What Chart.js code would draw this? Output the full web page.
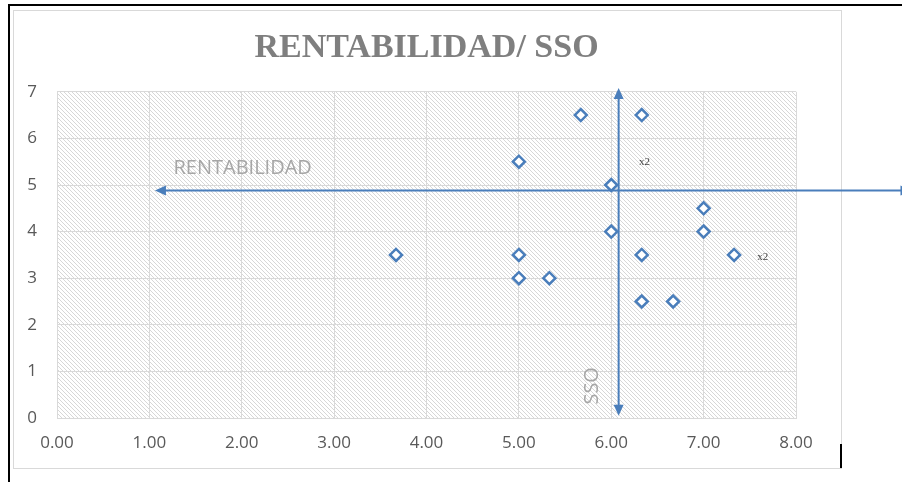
<!DOCTYPE html>
<html>
<head>
<meta charset="utf-8">
<script src="https://cdn.jsdelivr.net/npm/chart.js@4"></script>
<style>
  html, body { margin: 0; padding: 0; background: #fff; }
  #wrap { width: 902px; height: 482px; }
</style>
</head>
<body>
<div id="wrap"><canvas id="chart" width="902" height="482"></canvas></div>
<script>
// data (x = SSO, y = RENTABILIDAD)
const sso          = [5.67, 6.33, 5.00, 6.00, 7.00, 6.00, 7.00, 3.67, 5.00, 6.33, 7.33, 5.00, 5.33, 6.33, 6.67];
const rentabilidad = [6.5,  6.5,  5.5,  5.0,  4.5,  4.0,  4.0,  3.5,  3.5,  3.5,  3.5,  3.0,  3.0,  2.5,  2.5];

// "x2" notes next to repeated points
const noteX = [6.36, 7.64];
const noteY = [5.50, 3.45];
const noteText = ['x2', 'x2'];

// quadrant arrows (data units)
const hArrowX = [1.06, 9.25];
const hArrowY = 4.88;
const vArrowX = 6.08;
const vArrowY = [0.05, 7.08];

// arrow captions
const captionText = ['RENTABILIDAD', 'SSO'];
const captionX = [2.01, 5.79];
const captionY = [5.35, 0.69];

const xTicks = [0, 1, 2, 3, 4, 5, 6, 7, 8];
const yTicks = [0, 1, 2, 3, 4, 5, 6, 7];

const blue = '#4a7ebb';

function hatchPattern(ctx) {
  const c = document.createElement('canvas');
  c.width = c.height = 4;
  const g = c.getContext('2d');
  g.strokeStyle = '#d7d7d7';
  g.lineWidth = 1;
  g.beginPath();
  for (let k = -1; k <= 1; k++) {
    g.moveTo(0, 4 * k);
    g.lineTo(4, 4 + 4 * k);
  }
  g.stroke();
  return ctx.createPattern(c, 'repeat');
}

function arrowHead(ctx, x, y, ang) {
  const len = 11, half = 5;
  ctx.save();
  ctx.translate(x, y);
  ctx.rotate(ang);
  ctx.beginPath();
  ctx.moveTo(0, 0);
  ctx.lineTo(-len, -half);
  ctx.lineTo(-len, half);
  ctx.closePath();
  ctx.fill();
  ctx.restore();
}

const decor = {
  id: 'decor',
  beforeDraw(chart) {
    const { ctx, chartArea: a } = chart;
    ctx.save();
    // hatched plot area
    ctx.fillStyle = hatchPattern(ctx);
    ctx.fillRect(a.left, a.top, a.right - a.left, a.bottom - a.top);
    // chart frame
    ctx.strokeStyle = '#d9d9d9';
    ctx.lineWidth = 1;
    ctx.strokeRect(13.5, 10.5, 828, 458);
    // black outer lines
    ctx.strokeStyle = '#000';
    ctx.lineWidth = 2;
    ctx.beginPath();
    ctx.moveTo(8, 5); ctx.lineTo(902, 5);
    ctx.moveTo(9, 4); ctx.lineTo(9, 482);
    ctx.moveTo(841, 444); ctx.lineTo(841, 468);
    ctx.stroke();
    ctx.restore();
  },
  beforeDatasetsDraw(chart) {
    const { ctx, scales: { x, y } } = chart;
    ctx.save();
    ctx.strokeStyle = blue;
    ctx.fillStyle = blue;
    ctx.lineWidth = 2;
    // horizontal arrow
    const hy = y.getPixelForValue(hArrowY);
    const hx0 = x.getPixelForValue(hArrowX[0]), hx1 = x.getPixelForValue(hArrowX[1]);
    ctx.beginPath(); ctx.moveTo(hx0 + 6, hy); ctx.lineTo(hx1 - 6, hy); ctx.stroke();
    arrowHead(ctx, hx0, hy, Math.PI);
    arrowHead(ctx, hx1, hy, 0);
    // vertical arrow
    const vx = x.getPixelForValue(vArrowX);
    const vy0 = y.getPixelForValue(vArrowY[0]), vy1 = y.getPixelForValue(vArrowY[1]);
    ctx.beginPath(); ctx.moveTo(vx, vy0 - 6); ctx.lineTo(vx, vy1 + 6); ctx.stroke();
    arrowHead(ctx, vx, vy0, Math.PI / 2);
    arrowHead(ctx, vx, vy1, -Math.PI / 2);

    // captions
    ctx.fillStyle = '#a6a6a6';
    ctx.font = '20px "Open Sans"';
    ctx.textAlign = 'center';
    ctx.textBaseline = 'middle';
    ctx.fillText(captionText[0], x.getPixelForValue(captionX[0]), y.getPixelForValue(captionY[0]));
    ctx.save();
    ctx.translate(x.getPixelForValue(captionX[1]), y.getPixelForValue(captionY[1]));
    ctx.rotate(-Math.PI / 2);
    ctx.fillText(captionText[1], 0, 0);
    ctx.restore();

    // x2 notes
    ctx.fillStyle = '#404040';
    ctx.font = '11px "Liberation Serif"';
    noteText.forEach((t, i) => {
      ctx.fillText(t, x.getPixelForValue(noteX[i]), y.getPixelForValue(noteY[i]));
    });
    ctx.restore();
  }
};

new Chart(document.getElementById('chart'), {
  type: 'scatter',
  data: {
    datasets: [{
      data: sso.map((v, i) => ({ x: v, y: rentabilidad[i] })),
      pointStyle: 'rectRot',
      radius: 6,
      hoverRadius: 6,
      borderWidth: 2.5,
      borderColor: blue,
      backgroundColor: '#fff'
    }]
  },
  options: {
    responsive: false,
    animation: false,
    events: [],
    layout: { padding: { top: 0, left: 0, right: 106, bottom: 0 } },
    plugins: {
      legend: { display: false },
      tooltip: { enabled: false },
      title: {
        display: true,
        fullSize: false,
        text: 'RENTABILIDAD/ SSO',
        color: '#7f7f7f',
        font: { family: '"Liberation Serif"', size: 34, weight: 'bold', lineHeight: 1.2 },
        padding: { top: 28, bottom: 23 }
      }
    },
    scales: {
      x: {
        type: 'linear',
        min: xTicks[0],
        max: xTicks[xTicks.length - 1],
        afterFit: s => { s.height = 64; },
        afterBuildTicks: s => { s.ticks = xTicks.map(v => ({ value: v })); },
        ticks: {
          padding: 15,
          color: '#595959',
          font: { family: '"Open Sans"', size: 17 },
          callback: v => Number(v).toFixed(2)
        },
        grid: { color: '#d9d9d9', drawTicks: false },
        border: { color: '#d9d9d9' }
      },
      y: {
        type: 'linear',
        min: yTicks[0],
        max: yTicks[yTicks.length - 1],
        afterFit: s => { s.width = 57; },
        afterBuildTicks: s => { s.ticks = yTicks.map(v => ({ value: v })); },
        ticks: {
          padding: 20,
          color: '#595959',
          font: { family: '"Open Sans"', size: 17 }
        },
        grid: { color: '#d9d9d9', drawTicks: false },
        border: { color: '#d9d9d9' }
      }
    }
  },
  plugins: [decor]
});
</script>
</body>
</html>
